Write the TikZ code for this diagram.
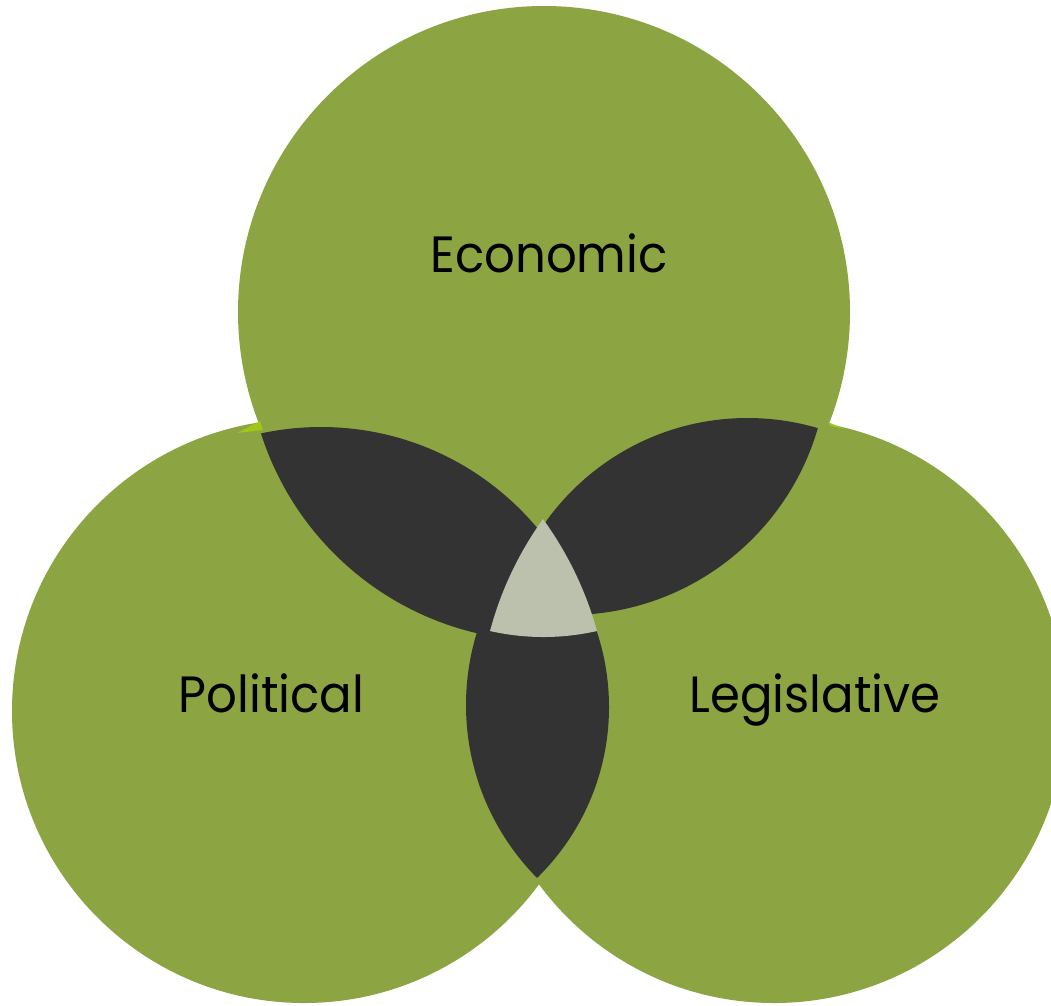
\documentclass[tikz,border=0pt]{standalone}
\usepackage{fontspec}
\setmainfont{Poppins}
\definecolor{venngreen}{RGB}{141,164,67}
\definecolor{venndark}{RGB}{51,51,51}
\definecolor{vennlight}{RGB}{188,193,174}
\definecolor{vennlime}{RGB}{160,198,24}
\newcommand{\setname}[1]{\scalebox{0.945}[1]{#1}}
\begin{document}
\begin{tikzpicture}[x=1pt,y=-1pt,
  setfill/.style={fill=venngreen},
  lensfill/.style={fill=venndark},
  corefill/.style={fill=vennlight},
  setlabel/.style={anchor=base,inner sep=0pt,font=\fontsize{51}{60}\selectfont,text=black}]
\clip (0,0) rectangle (1051,1005);
\fill[white] (0,0) rectangle (1051,1005);

% the three sets
\fill[setfill] (544,312) circle (306pt);
\fill[setfill] (304,711) circle (292pt);
\fill[setfill] (774,711) circle (292pt);

% thin slivers where the outlines meet
\fill[vennlime] (237,433) -- (260,421) -- (263,430) -- cycle;
\fill[vennlime] (828,422) -- (844,429) -- (831,426) -- cycle;

% pairwise overlaps
\begin{scope}
  \clip (321,709) circle (282pt);
  \fill[lensfill] (545,343) circle (298pt);
\end{scope}
\begin{scope}
  \clip (747.5,666) circle (248pt);
  \fill[lensfill] (569,356) circle (259pt);
\end{scope}
\begin{scope}
  \clip (712,705) circle (246pt);
  \fill[lensfill] (370,707) circle (239pt);
\end{scope}

% common overlap of all three
\fill[corefill] (543,519)
  .. controls (518.5,553.3) and (500.8,590.6) .. (490,631)
  .. controls (525.7,639) and (561.3,639) .. (597,631)
  .. controls (585.8,590.6) and (567.8,553.3) .. cycle;

% labels
\node[setlabel] (economic) at (549,272) {\setname{Economic}};
\node[setlabel] (political) at (271.5,712) {\setname{Political}};
\node[setlabel] (legislative) at (815,712) {\setname{Legislative}};
\end{tikzpicture}
\end{document}
